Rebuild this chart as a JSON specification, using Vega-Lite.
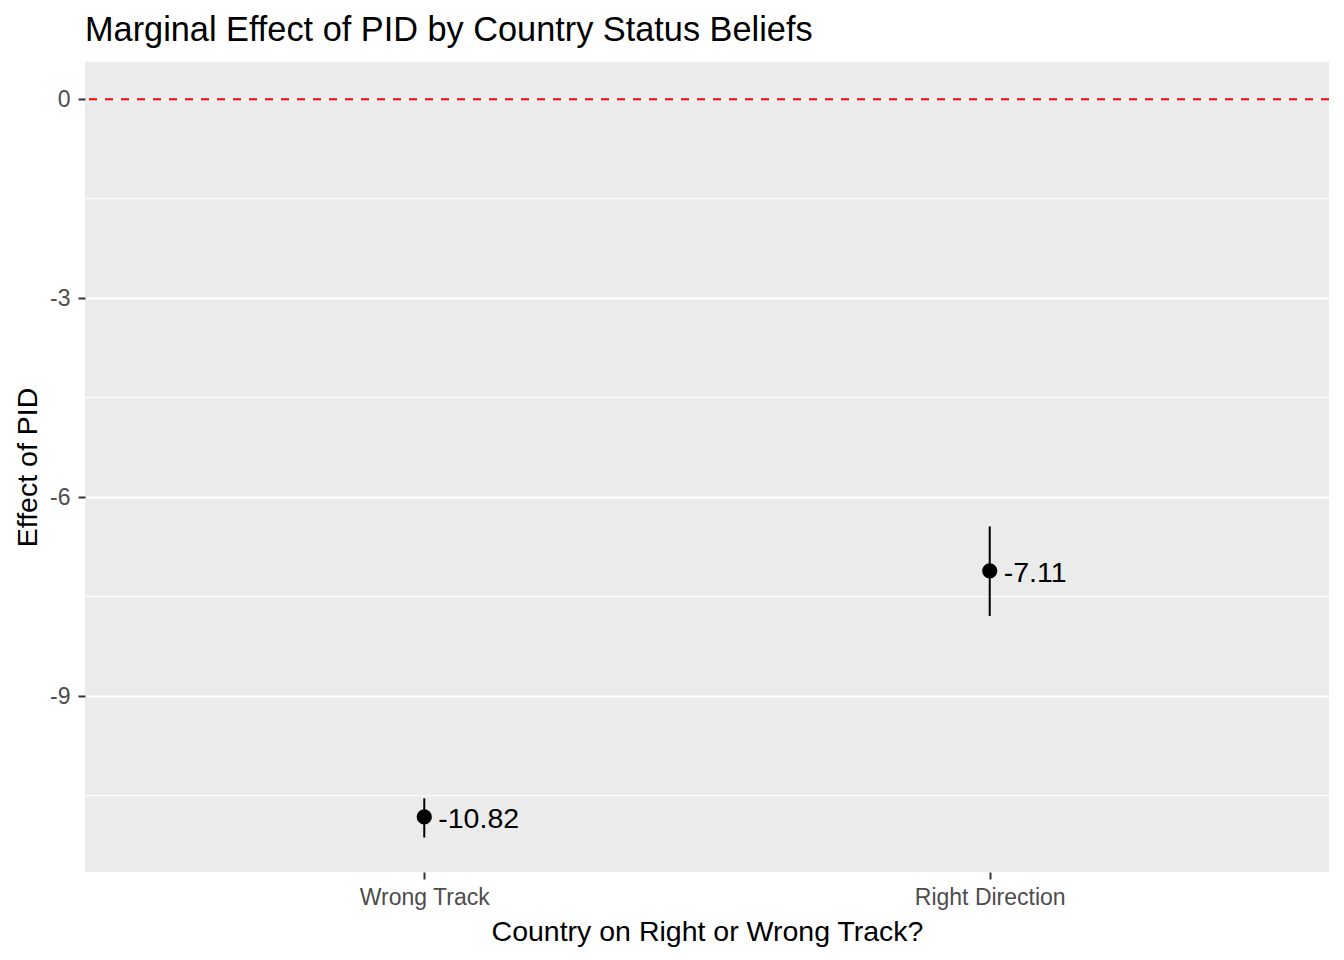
{
  "$schema": "https://vega.github.io/schema/vega-lite/v6.json",
  "autosize": "none",
  "width": 1244,
  "height": 810,
  "padding": {"left": 85, "top": 62, "right": 15, "bottom": 88},
  "background": "white",
  "title": {
    "text": "Marginal Effect of PID by Country Status Beliefs",
    "anchor": "start",
    "frame": "group",
    "font": "Liberation Sans",
    "fontSize": 34.3,
    "fontWeight": "normal",
    "color": "black",
    "baseline": "alphabetic",
    "offset": -13
  },
  "config": {
    "view": {"fill": "#EBEBEB", "stroke": null},
    "axis": {
      "labelFont": "Liberation Sans",
      "titleFont": "Liberation Sans",
      "labelFontSize": 23,
      "titleFontSize": 28.5,
      "labelColor": "#4D4D4D",
      "titleColor": "black",
      "titleFontWeight": "normal",
      "tickColor": "#333333",
      "tickSize": 7,
      "tickWidth": 2,
      "domain": false,
      "gridColor": "white",
      "gridWidth": 2,
      "gridOpacity": 1
    }
  },
  "datasets": {
    "est": [
      {"track": "Wrong Track", "est": -10.82, "lo": -11.13, "hi": -10.54, "label": "-10.82"},
      {"track": "Right Direction", "est": -7.11, "lo": -7.79, "hi": -6.44, "label": "-7.11"}
    ],
    "minor": [
      {"v": -1.5}, {"v": -4.5}, {"v": -7.5}, {"v": -10.5}
    ],
    "zero": [{"z": 0}]
  },
  "layer": [
    {
      "data": {"name": "minor"},
      "mark": {"type": "rule", "color": "white", "strokeWidth": 1},
      "encoding": {
        "y": {"field": "v", "type": "quantitative", "title": "Effect of PID",
              "scale": {"domain": [-11.65, 0.56], "nice": false, "zero": false},
              "axis": {"values": [-9, -6, -3, 0], "labelPadding": 8, "titlePadding": 7,
                       "labelExpr": "datum.value == 0 ? '0' : '-' + format(abs(datum.value), 'd')"}}
      }
    },
    {
      "data": {"name": "zero"},
      "mark": {"type": "rule", "color": "#FF0000", "strokeWidth": 2, "strokeDash": [8, 8]},
      "encoding": {
        "y": {"field": "z", "type": "quantitative", "title": "Effect of PID"}
      }
    },
    {
      "data": {"name": "est"},
      "mark": {"type": "rule", "color": "black", "strokeWidth": 2},
      "encoding": {
        "x": {"field": "track", "type": "nominal", "title": "Country on Right or Wrong Track?",
              "sort": ["Wrong Track", "Right Direction"],
              "scale": {"type": "point", "padding": 0.6},
              "axis": {"labelAngle": 0, "labelPadding": 7, "titlePadding": 8}},
        "y": {"field": "lo", "type": "quantitative", "title": "Effect of PID"},
        "y2": {"field": "hi"}
      }
    },
    {
      "data": {"name": "est"},
      "mark": {"type": "point", "filled": true, "color": "black", "size": 230, "opacity": 1},
      "encoding": {
        "x": {"field": "track", "type": "nominal", "title": "Country on Right or Wrong Track?", "sort": ["Wrong Track", "Right Direction"]},
        "y": {"field": "est", "type": "quantitative", "title": "Effect of PID"}
      }
    },
    {
      "data": {"name": "est"},
      "mark": {"type": "text", "align": "left", "baseline": "middle", "dx": 14, "dy": 2, "font": "Liberation Sans", "fontSize": 28.5, "color": "black"},
      "encoding": {
        "x": {"field": "track", "type": "nominal", "title": "Country on Right or Wrong Track?", "sort": ["Wrong Track", "Right Direction"]},
        "y": {"field": "est", "type": "quantitative", "title": "Effect of PID"},
        "text": {"field": "label"}
      }
    }
  ]
}
